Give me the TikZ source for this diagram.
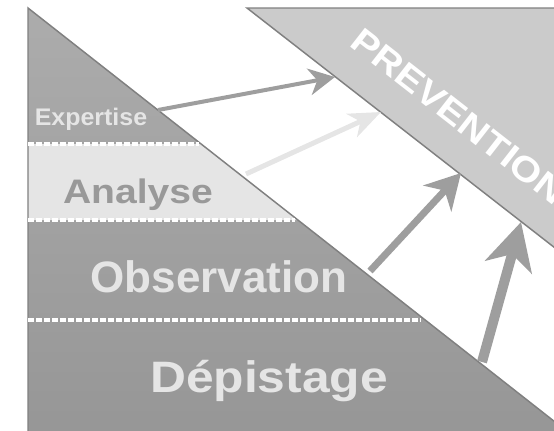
\documentclass[tikz,border=0pt]{standalone}
\usepackage{fontspec}
\setmainfont{Liberation Sans}
\usetikzlibrary{arrows.meta,calc}
\definecolor{edge}{RGB}{128,128,128}
\definecolor{tritop}{RGB}{172,172,172}
\definecolor{tribot}{RGB}{150,150,150}
\definecolor{pale}{RGB}{229,229,229}
\definecolor{prevfill}{RGB}{203,203,203}
\definecolor{arrowgray}{RGB}{158,158,158}
\definecolor{labelgray}{RGB}{153,153,153}

\begin{document}
\begin{tikzpicture}[
    x=0.75pt, y=-0.75pt,
    outline/.style={draw=edge, line width=1.1pt, line join=miter},
    sep/.style={draw=white, line width=2.5pt, dash pattern=on 4.2pt off 1.8pt},
    level/.style={inner sep=0pt, anchor=base, text=pale, font=\bfseries},
    push/.style={draw=arrowgray, fill=arrowgray}
]
    \useasboundingbox (0,0) rectangle (554,430);
    \clip (0,0) rectangle (554,430);

    % triangle of levels
    \shade[top color=tritop, bottom color=tribot] (28,8) -- (28,440) -- (578,440) -- cycle;
    \fill[pale] (28,144) -- (201,144) -- (298,220) -- (28,220) -- cycle;
    \draw[outline] (28,440) -- (28,8) -- (578,440);
    \draw[sep] (28,144) -- (199,144);
    \draw[sep] (28,220) -- (295,220);
    \draw[sep] (28,320) -- (421,320);

    % prevention band
    \fill[prevfill] (247,8) -- (600,8) -- (600,283) -- cycle;
    \draw[outline] (600,8) -- (247,8) -- (600,283);

    \coordinate (e1) at (158,110);
    \coordinate (p1) at (335,77);
    \coordinate (e2) at (246,174);
    \coordinate (p2) at (381,112);
    \coordinate (e3) at (370,271);
    \coordinate (p3) at (461,173);
    \coordinate (e4) at (482,362);
    \coordinate (p4) at (521,222);

    \draw[push, line width=3pt, -{Stealth[length=19.5pt, width=20pt, inset=6pt]}] (e1) -- (p1);
    \draw[push, draw=pale, fill=pale, line width=3.75pt, -{Stealth[length=24pt, width=19pt, inset=7pt]}] (e2) -- (p2);
    \draw[push, line width=5.25pt, -{Stealth[length=26pt, width=28.5pt, inset=8pt]}] (e3) -- (p3);
    \draw[push, line width=7.5pt, -{Stealth[length=35pt, width=36pt, inset=10pt]}] (e4) -- (p4);

    \node[level, font=\bfseries\fontsize{18pt}{18pt}\selectfont] (expertise) at (91,125) {\scalebox{1.04}[1]{Expertise}};
    \node[level, text=labelgray, font=\bfseries\fontsize{25.5pt}{25.5pt}\selectfont] (analyse) at (138,203) {\scalebox{1.15}[1]{Analyse}};
    \node[level, font=\bfseries\fontsize{33pt}{33pt}\selectfont] (observation) at (219,292) {Observation};
    \node[level, font=\bfseries\fontsize{33pt}{33pt}\selectfont] (depistage) at (269,392) {\scalebox{1.13}[1]{Dépistage}};
    \node[level, text=white, anchor=base west, rotate=-38, font=\bfseries\fontsize{26.25pt}{26.25pt}\selectfont] (prevention) at (348,45) {\scalebox{1.15}[1]{PREVENTION}};
\end{tikzpicture}
\end{document}
